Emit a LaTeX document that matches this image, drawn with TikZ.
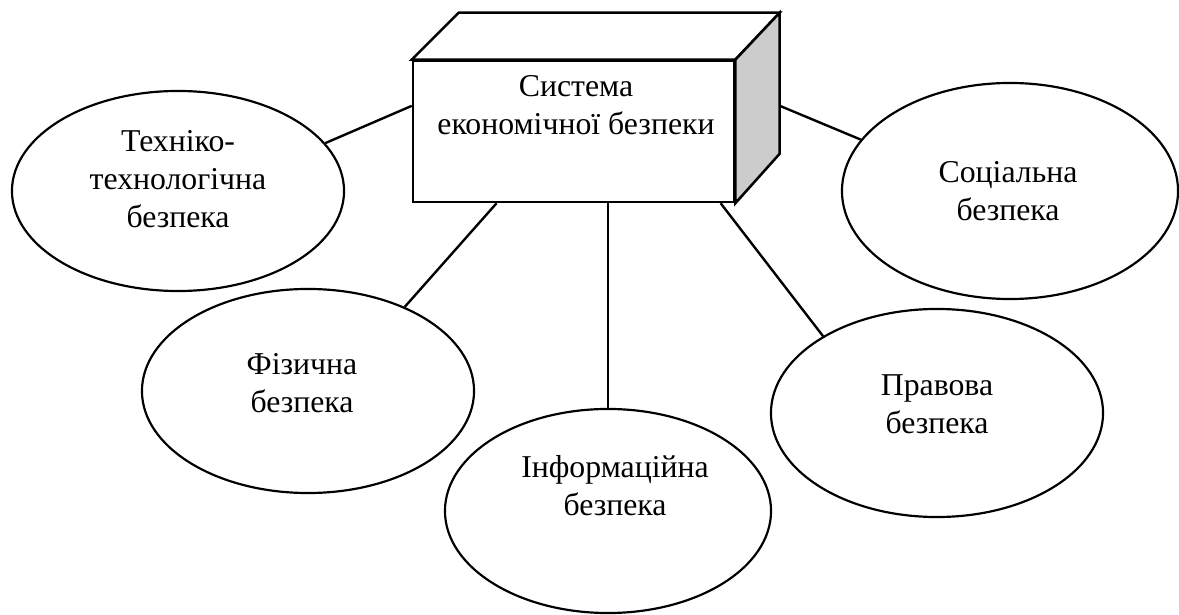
\documentclass[tikz,border=0pt]{standalone}
\usepackage{fontspec}
\setmainfont{Liberation Serif}
\usetikzlibrary{positioning,calc,shapes.geometric}
\definecolor{sidegray}{RGB}{204,204,204}

\begin{document}
\begin{tikzpicture}[
  x=0.025cm, y=-0.025cm,
  bubble/.style={draw, ellipse, inner sep=0pt, line width=1.55pt},
  face/.style={draw, rectangle, inner sep=0pt, minimum width=8.025cm, minimum height=3.525cm, line width=1.8pt, fill=white},
  txt/.style={align=center, inner sep=0pt, font=\fontsize{22.6}{27}\selectfont},
  link/.style={line width=1.7pt}
]
\useasboundingbox (0,0) rectangle (1179,615);

% central block
\node[face] (sys) at (573.5,131.5) {};
\draw[line width=1.8pt, fill=white] (sys.north west) -- ++(47,-47) -- ++(321,0) coordinate (bne) -- (sys.north east) -- cycle;
\draw[line width=1.8pt, fill=sidegray] (sys.north east) -- (bne) -- ++(0,141) coordinate (bse) -- (sys.south east) -- cycle;
\node[txt] (sys-txt) at (576,105) {Система\\економічної безпеки};

% kinds of security
\node[bubble, minimum width=8.3cm, minimum height=5cm] (tech) at (178,191) {};
\node[bubble, minimum width=8.4cm, minimum height=5.4cm] (soc) at (1010,191) {};
\node[bubble, minimum width=8.3cm, minimum height=5.1cm] (fiz) at (308,391) {};
\node[bubble, minimum width=8.15cm, minimum height=5.1cm] (inf) at (608,511) {};
\node[bubble, minimum width=8.3cm, minimum height=5.2cm] (prav) at (937,413) {};

\node[txt] (tech-txt) at (178,179) {Техніко-\\технологічна\\безпека};
\node[txt] (soc-txt) at (1008,191) {Соціальна\\безпека};
\node[txt] (fiz-txt) at (302,383) {Фізична\\безпека};
\node[txt] (inf-txt) at (615,486) {Інформаційна\\безпека};
\node[txt] (prav-txt) at (937,404) {Правова\\безпека};

\draw[link] (sys.171) -- (tech.18);
\draw[link] ($(bne)!0.66!(bse)$) -- (soc.161);
\draw[link] (sys.223) -- (fiz.41);
\draw[link] (inf.north) -- (inf.north |- sys.south);
\draw[link] (sys.334) -- (prav.146);
\end{tikzpicture}
\end{document}
